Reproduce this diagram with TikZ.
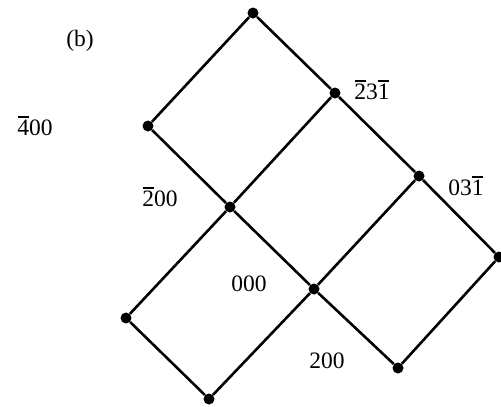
\documentclass[tikz,border=0pt]{standalone}
\usepackage{fontspec}
\setmainfont{Liberation Serif}
\newcommand\ob[1]{\ooalign{#1\cr\hidewidth\rule[0.74em]{0.46em}{0.08em}\hidewidth}}
\tikzset{
  pt/.style={circle,fill=black,inner sep=0pt,minimum size=11pt},
  lbl/.style={inner sep=0pt,font=\fontsize{23.5}{26}\selectfont},
  edge/.style={line width=2.6pt,black}
}
\begin{document}
\begin{tikzpicture}[x=1pt,y=-1pt]
\useasboundingbox (0,0) rectangle (501,407);
\fill[white] (0,0) rectangle (501,407);
% lattice points
\node[pt] (p00) at (253,13) {};
\node[pt] (p10) at (335,93) {};
\node[pt] (p20) at (419,176) {};
\node[pt] (p30) at (499,257) {};
\node[pt] (p01) at (148,126) {};
\node[pt] (p11) at (230,207) {};
\node[pt] (p21) at (314,289) {};
\node[pt] (p31) at (398,368) {};
\node[pt] (p12) at (126,318) {};
\node[pt] (p22) at (209,399) {};
% edges
\draw[edge] (p00) -- (p10) -- (p20) -- (p30);
\draw[edge] (p01) -- (p11) -- (p21) -- (p31);
\draw[edge] (p12) -- (p22);
\draw[edge] (p00) -- (p01);
\draw[edge] (p10) -- (p11) -- (p12);
\draw[edge] (p20) -- (p21) -- (p22);
\draw[edge] (p30) -- (p31);
% labels
\node[lbl] (tb) at (80,41) {(b)};
\node[lbl] (t400) at (35,128) {\ob{4}00};
\node[lbl] (t200n) at (160,199) {\ob{2}00};
\node[lbl] (t231) at (372,92) {\ob{2}3\ob{1}};
\node[lbl] (t031) at (466,188) {03\ob{1}};
\node[lbl] (t000) at (249,284) {000};
\node[lbl] (t200) at (327,361) {200};
\end{tikzpicture}
\end{document}
